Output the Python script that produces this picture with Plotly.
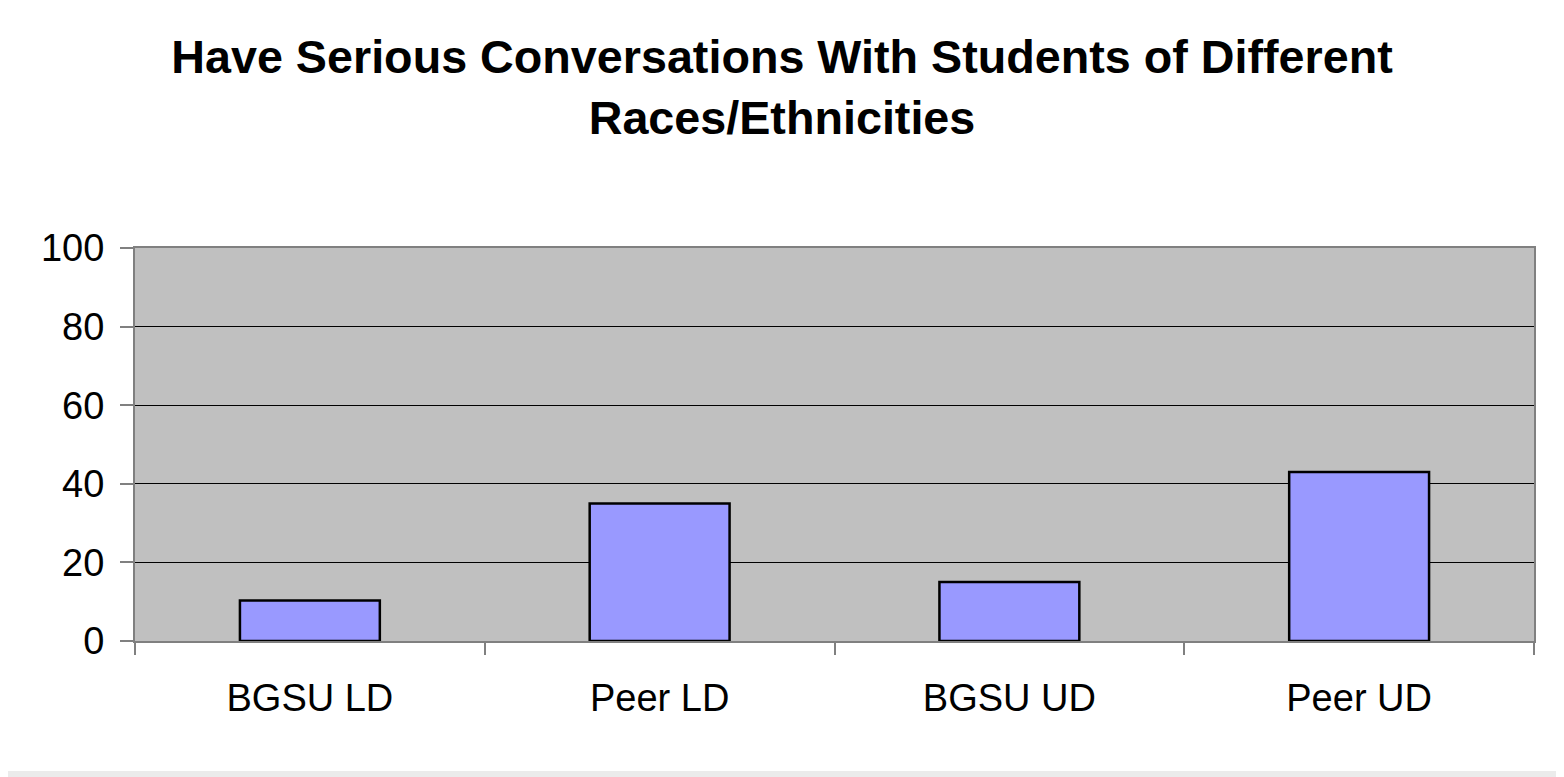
import plotly.graph_objects as go

categories = ["BGSU LD", "Peer LD", "BGSU UD", "Peer UD"]
values = [10.3, 35, 15, 43]
y_ticks = [0, 20, 40, 60, 80, 100]
title_text = "Have Serious Conversations With Students of Different<br>Races/Ethnicities"

# page body has an 8px margin, so the figure is sized to fill the rest of the window
W, H = 1556, 769
L, R, T, B = 127, 30, 240, 136
pw, ph = W - L - R, H - T - B

def px_x(x):
    return (x - L) / pw

def px_y(y):
    return (H - B - y) / ph

fig = go.Figure()
fig.add_trace(go.Bar(
    x=categories, y=values,
    marker=dict(color="#9999FF", line=dict(color="#000000", width=2.5)),
    width=0.4,
))

fig.update_layout(
    width=W, height=H,
    margin=dict(l=L, r=R, t=T, b=B),
    paper_bgcolor="#FFFFFF",
    plot_bgcolor="#C0C0C0",
    showlegend=False,
    font=dict(family="Liberation Sans, Arial, sans-serif", color="#000000", size=38),
    title=dict(
        text=title_text,
        x=774 / W, xanchor="center", xref="container",
        y=1 - 65 / H, yanchor="top", yref="container",
        font=dict(family="Liberation Sans, Arial, sans-serif", size=46.7, color="#000000", weight="bold"),
    ),
    xaxis=dict(
        type="category",
        showline=True, linecolor="#808080", linewidth=2, mirror=True,
        ticks="outside", tickson="boundaries", ticklen=12, tickcolor="#808080", tickwidth=1.5,
        showgrid=False, ticklabelstandoff=22,
        tickfont=dict(size=38),
    ),
    yaxis=dict(
        range=[0, 100], tickvals=y_ticks,
        showline=True, linecolor="#808080", linewidth=2, mirror=True,
        ticks="outside", ticklen=13, tickcolor="#808080", tickwidth=1.5,
        showgrid=True, gridcolor="#000000", gridwidth=1,
        zeroline=False, ticklabelstandoff=8,
        tickfont=dict(size=38),
    ),
    shapes=[
        dict(type="rect", xref="paper", yref="paper",
             x0=px_x(0), x1=px_x(W), y0=px_y(763), y1=px_y(H),
             fillcolor="#EBEBEB", line=dict(width=0), layer="above"),
    ],
)

fig.write_html("out.html")
